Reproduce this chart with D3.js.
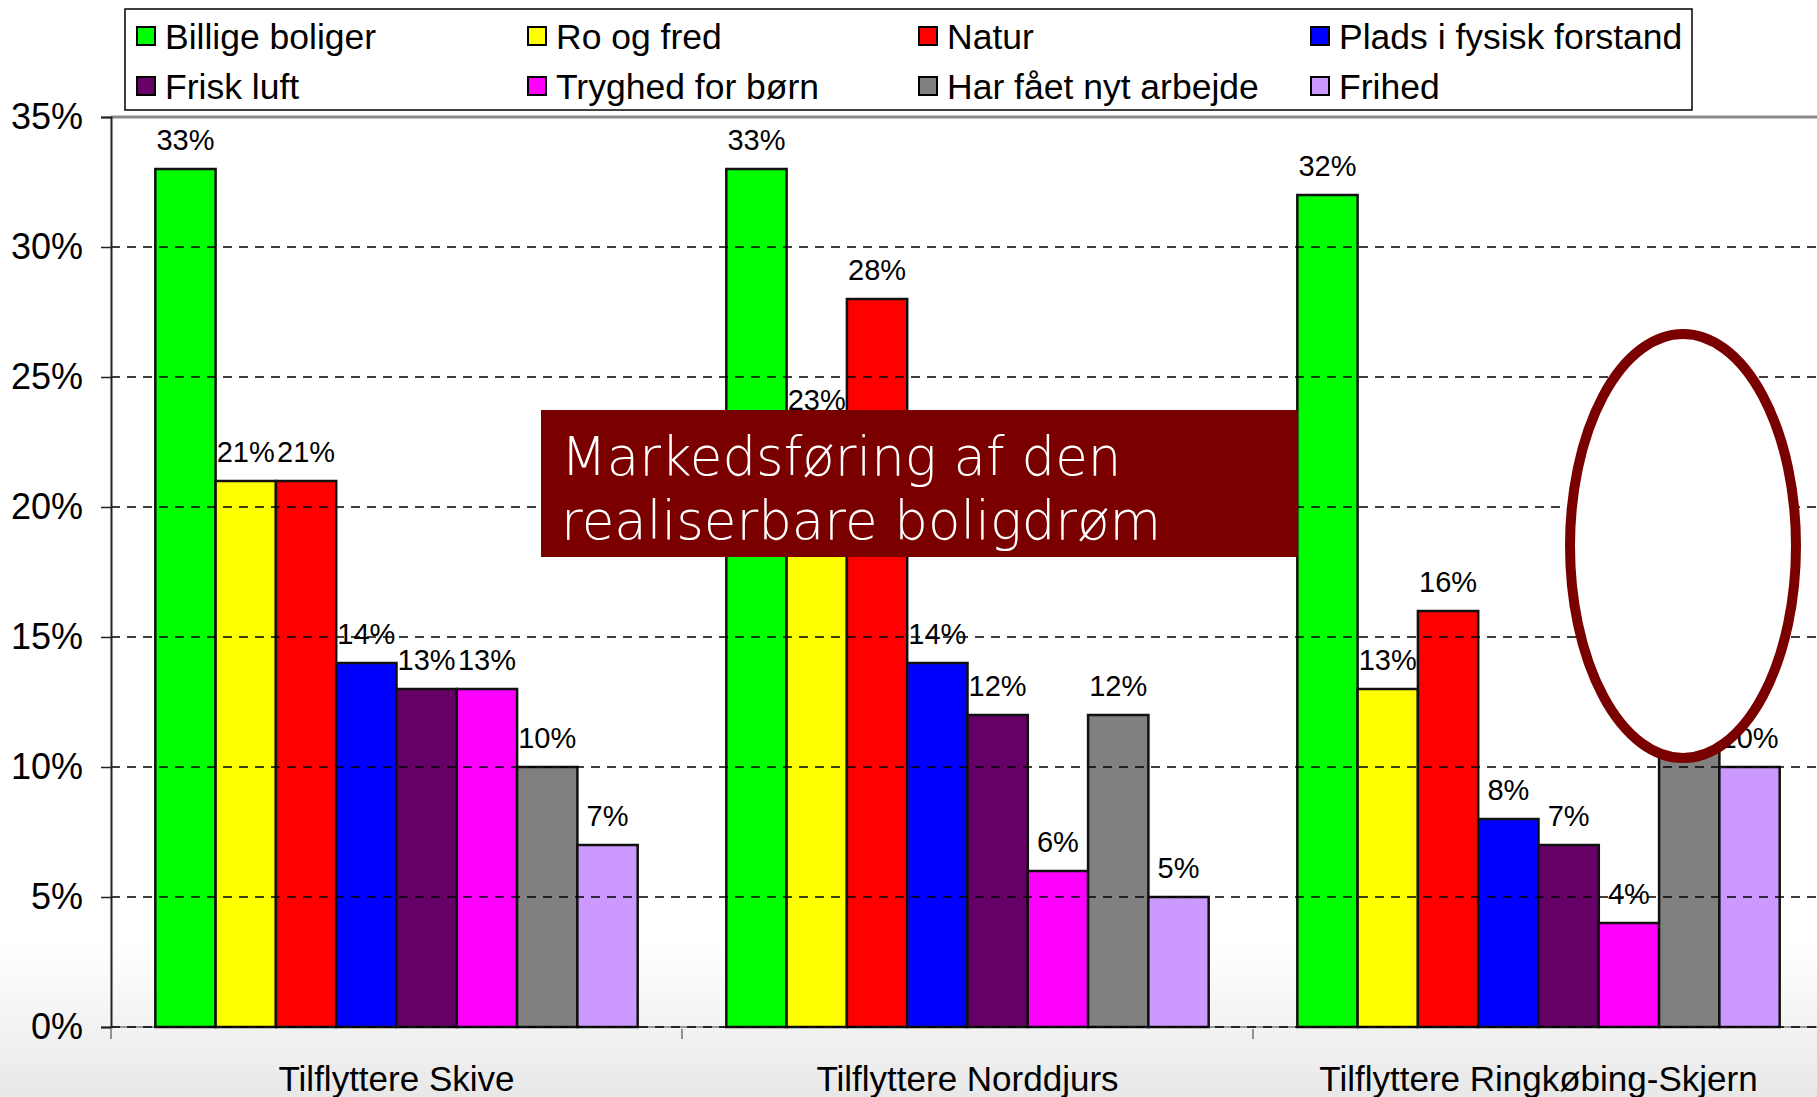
<!DOCTYPE html>
<html>
<head>
<meta charset="utf-8">
<script src="https://cdn.jsdelivr.net/npm/d3@7"></script>
<style>
  html, body { margin: 0; padding: 0; }
  body { width: 1817px; height: 1097px; overflow: hidden; }
  svg { display: block; font-family: "Liberation Sans", Arial, sans-serif; }
</style>
</head>
<body>
<svg id="chart" width="1817" height="1097"></svg>
<script>
// data
const categories = ["Tilflyttere Skive", "Tilflyttere Norddjurs", "Tilflyttere Ringkøbing-Skjern"];
const seriesNames = ["Billige boliger", "Ro og fred", "Natur", "Plads i fysisk forstand",
  "Frisk luft", "Tryghed for børn", "Har fået nyt arbejde", "Frihed"];
const seriesColors = ["#00ff00", "#ffff00", "#ff0000", "#0000ff", "#660066", "#ff00ff", "#808080", "#cc99ff"];
const skive = [0.33, 0.21, 0.21, 0.14, 0.13, 0.13, 0.10, 0.07];
const norddjurs = [0.33, 0.23, 0.28, 0.14, 0.12, 0.06, 0.12, 0.05];
const ringkobing = [0.32, 0.13, 0.16, 0.08, 0.07, 0.04, 0.12, 0.10];
const yTicks = [0, 0.05, 0.10, 0.15, 0.20, 0.25, 0.30, 0.35];
const boxLines = ["Markedsføring af den", "realiserbare boligdrøm"];

const values = [skive, norddjurs, ringkobing];

const svg = d3.select("#chart");

// slide background
const defs = svg.append("defs");
const grad = defs.append("linearGradient").attr("id", "bg").attr("x1", 0).attr("y1", 0).attr("x2", 0).attr("y2", 1);
grad.append("stop").attr("offset", "0").attr("stop-color", "#ffffff");
grad.append("stop").attr("offset", "0.86").attr("stop-color", "#ffffff");
grad.append("stop").attr("offset", "1").attr("stop-color", "#e8e8e8");
svg.append("rect").attr("width", 1817).attr("height", 1097).attr("fill", "url(#bg)");

const y = d3.scaleLinear().domain([0, 0.35]).range([1027, 117]);
const x0 = d3.scaleBand().domain(categories).range([111, 1824]);
const x1 = d3.scaleBand().domain(seriesNames).range([0, x0.bandwidth()]).paddingInner(0).paddingOuter(0.735);

const fmt = d3.format(".0%");

// plot top border and base line
svg.append("line").attr("x1", 111).attr("x2", 1817).attr("y1", y(0.35)).attr("y2", y(0.35))
  .attr("stroke", "#8a8a8a").attr("stroke-width", 3);
svg.append("line").attr("x1", 111).attr("x2", 1817).attr("y1", y(0)).attr("y2", y(0))
  .attr("stroke", "#9a9a9a").attr("stroke-width", 2);

// value labels
const groups = svg.append("g").selectAll("g")
  .data(categories)
  .join("g")
  .attr("transform", d => `translate(${x0(d)},0)`);

groups.selectAll("text")
  .data((d, i) => values[i].map((v, j) => ({ key: seriesNames[j], v })))
  .join("text")
  .attr("x", d => x1(d.key) + x1.bandwidth() / 2)
  .attr("y", d => y(d.v) - 19)
  .attr("text-anchor", "middle")
  .attr("font-size", 29)
  .attr("fill", "#000")
  .text(d => fmt(d.v));

// gridlines
svg.append("g").selectAll("line")
  .data(yTicks.filter(t => t < 0.35))
  .join("line")
  .attr("x1", 111).attr("x2", 1817)
  .attr("y1", d => y(d)).attr("y2", d => y(d))
  .attr("stroke", "#000").attr("stroke-width", 1.5)
  .attr("stroke-dasharray", "9,7");

// bars
groups.append("g").selectAll("rect")
  .data((d, i) => values[i].map((v, j) => ({ key: seriesNames[j], v, c: seriesColors[j] })))
  .join("rect")
  .attr("x", d => x1(d.key))
  .attr("y", d => y(d.v))
  .attr("width", x1.bandwidth())
  .attr("height", d => y(0) - y(d.v))
  .attr("fill", d => d.c)
  .attr("stroke", "#111")
  .attr("stroke-width", 2.5);

// y axis
const yAxis = d3.axisLeft(y).tickValues(yTicks).tickSize(10).tickPadding(18).tickFormat(fmt);
const ya = svg.append("g").attr("transform", "translate(111,0)").call(yAxis);
ya.select(".domain").attr("stroke", "#222").attr("stroke-width", 2);
ya.selectAll(".tick line").attr("stroke", "#222").attr("stroke-width", 1.5);
ya.selectAll(".tick text").attr("font-size", 36).attr("font-family", "Liberation Sans, Arial, sans-serif")
  .attr("fill", "#000");

// category ticks and labels
svg.append("g").selectAll("line")
  .data(categories.map(c => x0(c)))
  .join("line")
  .attr("x1", d => d).attr("x2", d => d)
  .attr("y1", y(0) + 2).attr("y2", y(0) + 12)
  .attr("stroke", "#333").attr("stroke-width", 1);

svg.append("g").selectAll("text")
  .data(categories)
  .join("text")
  .attr("x", d => x0(d) + x0.bandwidth() / 2)
  .attr("y", 1091)
  .attr("text-anchor", "middle")
  .attr("font-size", 35)
  .attr("fill", "#000")
  .text(d => d);

// legend
const legend = svg.append("g");
legend.append("rect").attr("x", 125).attr("y", 9).attr("width", 1567).attr("height", 101)
  .attr("fill", "#fff").attr("stroke", "#000").attr("stroke-width", 1.5);
const colX = [137, 528, 919, 1311];
const rowY = [36, 86];
const items = legend.selectAll("g.item")
  .data(seriesNames)
  .join("g")
  .attr("class", "item")
  .attr("transform", (d, i) => `translate(${colX[i % 4]},${rowY[Math.floor(i / 4)]})`);
items.append("rect").attr("x", 0).attr("y", -9).attr("width", 18).attr("height", 18)
  .attr("fill", (d, i) => seriesColors[i]).attr("stroke", "#000").attr("stroke-width", 2);
items.append("text").attr("x", 28).attr("y", 0).attr("dy", "0.36em")
  .attr("font-size", 35.5).attr("fill", "#000").text(d => d);

// highlight ellipse
svg.append("ellipse").attr("cx", 1683).attr("cy", 546).attr("rx", 113).attr("ry", 212)
  .attr("fill", "#fff").attr("stroke", "#7a0000").attr("stroke-width", 10);

// overlay box
svg.append("rect").attr("x", 541).attr("y", 410).attr("width", 757).attr("height", 147).attr("fill", "#7a0000");
svg.append("g").selectAll("text")
  .data(boxLines)
  .join("text")
  .attr("x", 561)
  .attr("y", (d, i) => 475 + i * 64)
  .attr("font-family", "DejaVu Sans, sans-serif")
  .attr("font-weight", 200)
  .attr("font-size", 53)
  .attr("fill", "#fff")
  .text(d => d);
</script>
</body>
</html>
